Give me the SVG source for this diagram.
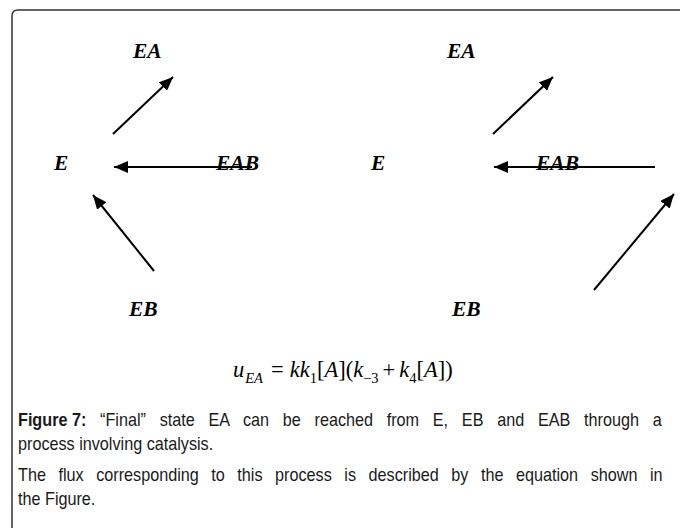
<svg xmlns="http://www.w3.org/2000/svg" width="680" height="528" viewBox="0 0 680 528">
<style>
.lbl{font-family:"Liberation Serif","Times New Roman",serif;font-size:21.5px;font-weight:bold;font-style:italic;fill:#000}
.eq{font-family:"Liberation Serif","Times New Roman",serif;font-size:22.5px;fill:#000}
.i{font-style:italic}
.sub{font-size:14.5px}
.cap{font-family:"Liberation Sans",Arial,sans-serif;font-size:18px;fill:#1a1a1a}
.b{font-weight:bold;word-spacing:0}
.arr{stroke:#000;stroke-width:2;fill:none;marker-end:url(#ah)}
</style>
<defs>
<marker id="ah" markerUnits="userSpaceOnUse" markerWidth="16" markerHeight="12" refX="14" refY="6" orient="auto">
<path d="M0,0 L14,6 L0,12 Z" fill="#000"/>
</marker>
</defs>
<rect width="680" height="528" fill="#fff"/>
<path d="M12,528 V16 Q12,10 18,10 H680" fill="none" stroke="#333" stroke-width="1.5"/>
<g id="connectors">
<line class="arr" x1="113" y1="134" x2="173" y2="77"/>
<line class="arr" x1="252" y1="167" x2="114" y2="167"/>
<line class="arr" x1="154" y1="271" x2="93" y2="195"/>
<line class="arr" x1="493" y1="134" x2="553" y2="77"/>
<line class="arr" x1="655" y1="167" x2="494" y2="167"/>
<line class="arr" x1="594" y1="290" x2="674" y2="194"/>
</g>
<g id="left-EA"><text class="lbl" x="133" y="58">EA</text></g>
<g id="left-E"><text class="lbl" x="54" y="170">E</text></g>
<g id="left-EAB"><text class="lbl" x="216" y="170">EAB</text></g>
<g id="left-EB"><text class="lbl" x="129" y="316">EB</text></g>
<g id="right-EA"><text class="lbl" x="447" y="58">EA</text></g>
<g id="right-E"><text class="lbl" x="371" y="170">E</text></g>
<g id="right-EAB"><text class="lbl" x="536" y="170">EAB</text></g>
<g id="right-EB"><text class="lbl" x="452" y="316">EB</text></g>
<g id="equation"><text class="eq" x="233" y="377"><tspan class="i">u</tspan><tspan class="i sub" dy="6" dx="1">EA</tspan><tspan dy="-6" dx="8">=</tspan><tspan class="i" dx="6">kk</tspan><tspan class="sub" dy="6">1</tspan><tspan dy="-6">[</tspan><tspan class="i">A</tspan><tspan>](</tspan><tspan class="i">k</tspan><tspan class="sub" dy="6">−3</tspan><tspan dy="-6" dx="4">+</tspan><tspan class="i" dx="4">k</tspan><tspan class="sub" dy="6">4</tspan><tspan dy="-6">[</tspan><tspan class="i">A</tspan><tspan>])</tspan></text></g>
<g id="caption" transform="scale(0.9,1)">
<text class="cap" x="20" y="426" word-spacing="10.26"><tspan class="b">Figure 7:</tspan> “Final” state EA can be reached from E, EB and EAB through a</text>
<text class="cap" x="20" y="450">process involving catalysis.</text>
<text class="cap" x="20" y="481" word-spacing="8.95">The flux corresponding to this process is described by the equation shown in</text>
<text class="cap" x="20" y="505">the Figure.</text>
</g>
</svg>
